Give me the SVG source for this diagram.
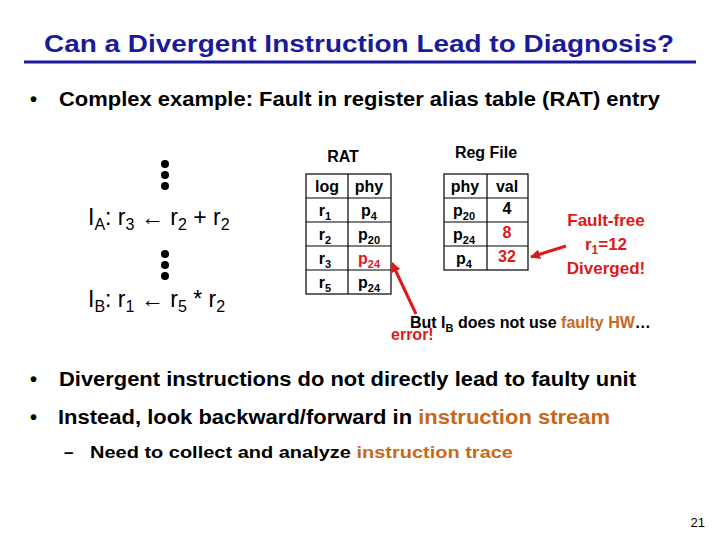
<svg xmlns="http://www.w3.org/2000/svg" width="720" height="540" viewBox="0 0 720 540">
<style>
text{font-family:"Liberation Sans",Arial,sans-serif;font-weight:bold;fill:#000}
.n{font-weight:normal}
.r{fill:#e01818}
.o{fill:#c8681a}
.c{text-anchor:middle;font-size:16px}
.g line{stroke:#000;stroke-width:1.2}
.g rect{fill:none;stroke:#000;stroke-width:1.2}
</style>
<defs><marker id="ah" markerWidth="10" markerHeight="10" refX="9" refY="5" orient="auto" markerUnits="userSpaceOnUse"><path d="M0,0 L10,5 L0,10z" fill="#e01818"/></marker></defs>
<rect width="720" height="540" fill="#fff"/>
<text x="44" y="52" font-size="23" style="fill:#1a1a9a" textLength="630" lengthAdjust="spacingAndGlyphs">Can a Divergent Instruction Lead to Diagnosis?</text>
<line x1="24" y1="62" x2="696" y2="62" stroke="#1a1a9a" stroke-width="3"/>
<text x="30" y="106" font-size="20">•</text>
<text x="59" y="106" font-size="20" textLength="601" lengthAdjust="spacingAndGlyphs">Complex example: Fault in register alias table (RAT) entry</text>
<g id="code">
<circle cx="165" cy="164" r="4"/><circle cx="165" cy="175" r="4"/><circle cx="165" cy="186" r="4"/>
<circle cx="165" cy="254" r="4"/><circle cx="165" cy="265" r="4"/><circle cx="165" cy="276" r="4"/>
<text x="88" y="225" font-size="23" class="n">I<tspan font-size="16" dy="5">A</tspan><tspan dy="-5">: r</tspan><tspan font-size="16" dy="5">3</tspan><tspan dy="-5"> ← r</tspan><tspan font-size="16" dy="5">2</tspan><tspan dy="-5"> + r</tspan><tspan font-size="16" dy="5">2</tspan></text>
<text x="88" y="307" font-size="23" class="n">I<tspan font-size="16" dy="5">B</tspan><tspan dy="-5">: r</tspan><tspan font-size="16" dy="5">1</tspan><tspan dy="-5"> ← r</tspan><tspan font-size="16" dy="5">5</tspan><tspan dy="-5"> * r</tspan><tspan font-size="16" dy="5">2</tspan></text>
</g>
<g id="rat" class="g">
<text x="343" y="162" class="c">RAT</text>
<rect x="306" y="174" width="85" height="120"/>
<line x1="348" y1="174" x2="348" y2="294"/>
<line x1="306" y1="198" x2="391" y2="198"/><line x1="306" y1="222" x2="391" y2="222"/><line x1="306" y1="246" x2="391" y2="246"/><line x1="306" y1="270" x2="391" y2="270"/>
<text x="327" y="192" class="c">log</text><text x="369" y="192" class="c">phy</text>
<text x="325" y="216" class="c">r<tspan font-size="11" dy="4">1</tspan></text><text x="369" y="216" class="c">p<tspan font-size="11" dy="4">4</tspan></text>
<text x="325" y="240" class="c">r<tspan font-size="11" dy="4">2</tspan></text><text x="369" y="240" class="c">p<tspan font-size="11" dy="4">20</tspan></text>
<text x="325" y="264" class="c">r<tspan font-size="11" dy="4">3</tspan></text><text x="369" y="264" class="c r">p<tspan font-size="11" dy="4">24</tspan></text>
<text x="325" y="288" class="c">r<tspan font-size="11" dy="4">5</tspan></text><text x="369" y="288" class="c">p<tspan font-size="11" dy="4">24</tspan></text>
</g>
<g id="regfile" class="g">
<text x="486" y="158" class="c">Reg File</text>
<rect x="444" y="174" width="84" height="96"/>
<line x1="487" y1="174" x2="487" y2="270"/>
<line x1="444" y1="198" x2="528" y2="198"/><line x1="444" y1="222" x2="528" y2="222"/><line x1="444" y1="246" x2="528" y2="246"/>
<text x="465" y="192" class="c">phy</text><text x="507" y="192" class="c">val</text>
<text x="464" y="216" class="c">p<tspan font-size="11" dy="4">20</tspan></text><text x="507" y="214" class="c">4</text>
<text x="464" y="240" class="c">p<tspan font-size="11" dy="4">24</tspan></text><text x="507" y="238" class="c r">8</text>
<text x="464" y="264" class="c">p<tspan font-size="11" dy="4">4</tspan></text><text x="507" y="262" class="c r">32</text>
</g>
<g id="notes">
<text x="606" y="226" class="c r" style="font-size:17px">Fault-free</text>
<text x="606" y="250" class="c r" style="font-size:17px">r<tspan font-size="12" dy="4">1</tspan><tspan dy="-4">=12</tspan></text>
<text x="606" y="274" class="c r" style="font-size:17px">Diverged!</text>
<text x="410" y="328" font-size="16">But I<tspan font-size="11" dy="4">B</tspan><tspan dy="-4"> does not use </tspan><tspan class="o">faulty HW</tspan>…</text>
<text x="391" y="340" font-size="16" class="r">error!</text>
</g>
<g id="connectors" stroke="#e01818" stroke-width="3">
<line x1="416" y1="314" x2="392" y2="263" marker-end="url(#ah)"/>
<line x1="566" y1="246" x2="531" y2="257" marker-end="url(#ah)"/>
</g>
<text x="30" y="386" font-size="20">•</text>
<text x="59" y="386" font-size="20" textLength="577" lengthAdjust="spacingAndGlyphs">Divergent instructions do not directly lead to faulty unit</text>
<text x="30" y="424" font-size="20">•</text>
<text x="58" y="424" font-size="20" textLength="552" lengthAdjust="spacingAndGlyphs">Instead, look backward/forward in <tspan class="o">instruction stream</tspan></text>
<text x="64" y="458" font-size="17">–</text>
<text x="90" y="458" font-size="17" textLength="423" lengthAdjust="spacingAndGlyphs">Need to collect and analyze <tspan class="o">instruction trace</tspan></text>
<text x="705" y="527" font-size="13" class="n" text-anchor="end">21</text>
</svg>
